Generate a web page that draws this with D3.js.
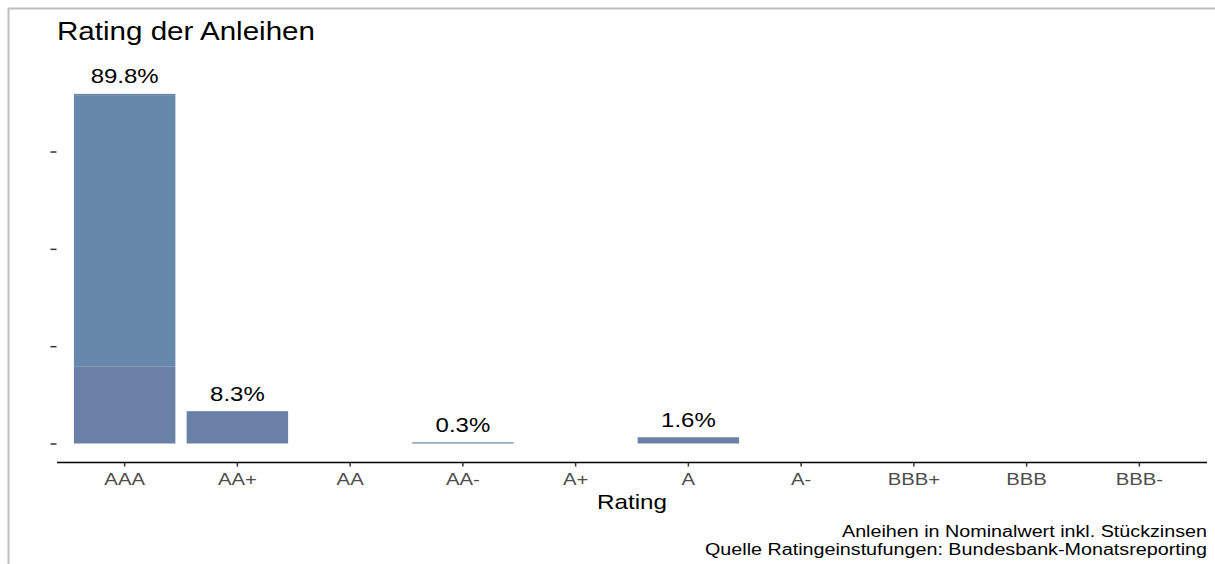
<!DOCTYPE html>
<html>
<head>
<meta charset="utf-8">
<script src="https://cdn.jsdelivr.net/npm/d3@7"></script>
<style>
  html, body { margin: 0; padding: 0; background: #fff; }
  svg { display: block; font-family: "Liberation Sans", Arial, sans-serif; }
</style>
</head>
<body>
<svg id="chart" width="1215" height="564"></svg>
<script>
// ---- data ----
const categories = ["AAA", "AA+", "AA", "AA-", "A+", "A", "A-", "BBB+", "BBB", "BBB-"];
const segmentBottom = [19.7, 8.3, 0, 0.3, 0, 1.6, 0, 0, 0, 0];
const segmentMiddle = [69.6, 0, 0, 0, 0, 0, 0, 0, 0, 0];
const segmentTop    = [0.5, 0, 0, 0, 0, 0, 0, 0, 0, 0];
const totalLabels   = ["89.8%", "8.3%", "", "0.3%", "", "1.6%", "", "", "", ""];
const yTicks = [0, 25, 50, 75];
const segmentKeys = ["bottom", "middle", "top"];
const segmentColors = ["#6a80a6", "#6688ab", "#6a80a6"];

const svg = d3.select("#chart");
const W = 1215, H = 564;
const SX = 1.23; // horizontal text stretch seen in the reference

// outer frame (top and left lines)
svg.append("line").attr("x1", 8).attr("x2", W).attr("y1", 8.5).attr("y2", 8.5)
  .attr("stroke", "#bdbdbd").attr("stroke-width", 2);
svg.append("line").attr("x1", 8.5).attr("x2", 8.5).attr("y1", 8).attr("y2", H)
  .attr("stroke", "#bdbdbd").attr("stroke-width", 2);

const plotLeft = 57, plotRight = 1207;
const x = d3.scaleBand().domain(categories)
  .range([plotLeft, plotRight]).paddingInner(0.1).paddingOuter(0.15);
const yScale = d3.scaleLinear().domain([0, 100]).range([443.5, 54.2]);

const rows = categories.map((c, i) => ({
  cat: c, bottom: segmentBottom[i], middle: segmentMiddle[i], top: segmentTop[i]
}));
const stacked = d3.stack().keys(segmentKeys)(rows);

const g = svg.append("g");
stacked.forEach((layer, li) => {
  g.selectAll(null).data(layer.filter(d => d[1] - d[0] > 0)).enter().append("rect")
    .attr("x", d => x(d.data.cat))
    .attr("width", x.bandwidth())
    .attr("y", d => yScale(d[1]))
    .attr("height", d => yScale(d[0]) - yScale(d[1]))
    .attr("fill", segmentColors[li]);
});

// labels
const totals = categories.map((c, i) => segmentBottom[i] + segmentMiddle[i] + segmentTop[i]);
g.selectAll(null).data(categories.map((c, i) => ({ c, t: totals[i], l: totalLabels[i] })).filter(d => d.l))
  .enter().append("text")
  .attr("transform", d => `translate(${x(d.c) + x.bandwidth() / 2},${yScale(d.t) - 10.5}) scale(${SX},1)`)
  .attr("text-anchor", "middle")
  .attr("font-size", 19.5)
  .attr("fill", "#000")
  .text(d => d.l);

// y axis (ticks only, no labels, no line)
const yAxis = d3.axisLeft(yScale).tickValues(yTicks).tickFormat("").tickSize(6).tickSizeOuter(0);
const yg = svg.append("g").attr("transform", `translate(56.5,0)`).call(yAxis);
yg.select(".domain").remove();
yg.selectAll(".tick line").attr("stroke", "#333").attr("stroke-width", 1.5);

// x axis
const xAxis = d3.axisBottom(x).tickSize(4).tickSizeOuter(0).tickPadding(6);
const xg = svg.append("g").attr("transform", `translate(0,462.5)`).call(xAxis);
xg.select(".domain").attr("stroke", "#000").attr("stroke-width", 1.5)
  .attr("d", `M${plotLeft},0H${plotRight}`);
xg.selectAll(".tick line").attr("stroke", "#333").attr("stroke-width", 1.5);
xg.selectAll(".tick text")
  .attr("y", null).attr("dy", null)
  .attr("transform", `translate(0,22.5) scale(${SX},1)`)
  .attr("font-size", 16.5).attr("fill", "#4d4d4d")
  .attr("font-family", "Liberation Sans, Arial, sans-serif");

// axis title
svg.append("text").attr("x", (plotLeft + plotRight) / 2).attr("y", 509)
  .attr("text-anchor", "middle").attr("font-size", 21).attr("fill", "#000")
  .attr("textLength", 70).attr("lengthAdjust", "spacingAndGlyphs").text("Rating");

// title
svg.append("text").attr("x", 57).attr("y", 40)
  .attr("font-size", 25).attr("fill", "#000")
  .attr("textLength", 258).attr("lengthAdjust", "spacingAndGlyphs").text("Rating der Anleihen");

// caption
svg.append("text").attr("x", 1207).attr("y", 536.5).attr("text-anchor", "end")
  .attr("font-size", 16).attr("fill", "#000")
  .attr("textLength", 365).attr("lengthAdjust", "spacingAndGlyphs")
  .text("Anleihen in Nominalwert inkl. Stückzinsen");
svg.append("text").attr("x", 1207).attr("y", 555).attr("text-anchor", "end")
  .attr("font-size", 16).attr("fill", "#000")
  .attr("textLength", 502).attr("lengthAdjust", "spacingAndGlyphs")
  .text("Quelle Ratingeinstufungen: Bundesbank-Monatsreporting");
</script>
</body>
</html>
